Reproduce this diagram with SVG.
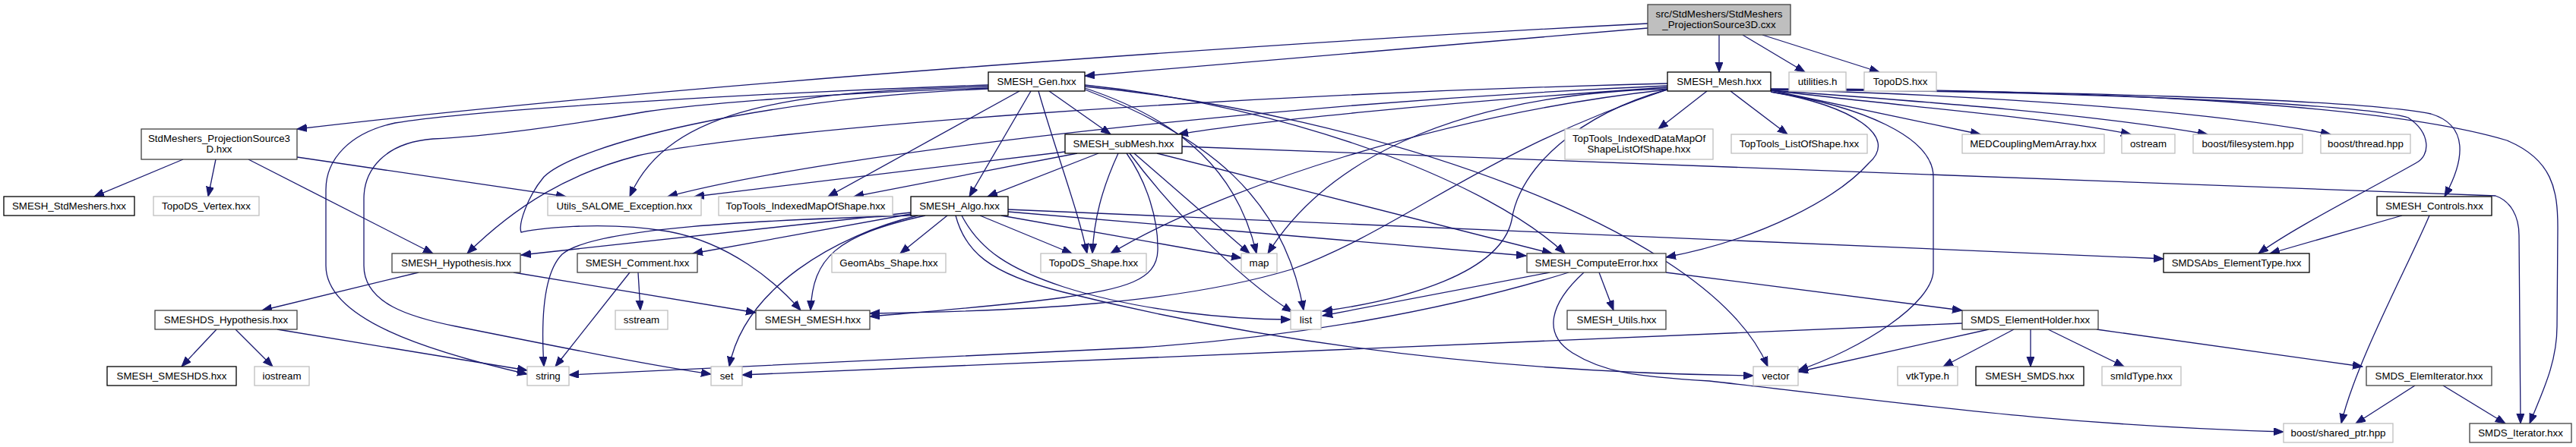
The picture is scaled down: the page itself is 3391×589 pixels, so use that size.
<svg xmlns="http://www.w3.org/2000/svg" width="3391" height="589" viewBox="0 0 3391 589">
<style>
.n rect{fill:#fff;stroke:#404040;stroke-width:1.3}
.k rect{stroke:#000}
.g rect{stroke:#bfbfbf}
.r rect{fill:#bfbfbf;stroke:#404040}
text{font-family:"Liberation Sans",Arial,sans-serif;font-size:13.3px;text-anchor:middle;fill:#000}
#edges path{fill:none;stroke:#191970;stroke-width:1.3;marker-end:url(#a)}
</style>
<defs>
<marker id="a" markerWidth="14" markerHeight="11" refX="13" refY="5" orient="auto" markerUnits="userSpaceOnUse"><path d="M0,0 L13,5 L0,10 z" fill="#191970" stroke="#191970" stroke-width="1"/></marker>
</defs>
<rect width="3391" height="589" fill="#fff"/>
<g id="edges">
<path d="M2169,31 C1700,55 900,110 391,170"/>
<path d="M2169,37 L1428,100"/>
<path d="M2263,46 L2263,95"/>
<path d="M2294,46 L2376,95"/>
<path d="M2320,46 L2474,95"/>
<path d="M241,210 L124,259"/>
<path d="M284,210 L274,259"/>
<path d="M327,210 L570,334"/>
<path d="M391,207 L745,259"/>
<path d="M1357,120 L1276,259"/>
<path d="M1381,120 L1462,177"/>
<path d="M1342,120 L1090,259"/>
<path d="M1367,120 C1390,200 1420,280 1431,334"/>
<path d="M1428,116 C1560,160 1630,230 1654,334"/>
<path d="M1428,118 C1590,180 1690,260 1716,409"/>
<path d="M1428,112 C1700,140 1960,240 2060,334"/>
<path d="M1428,114 C1800,150 2250,300 2327,483"/>
<path d="M1301,112 C1000,122 620,145 520,162 C460,175 429,210 429,250 L429,350 C429,420 560,462 694,493"/>
<path d="M1301,116 C1050,124 900,140 851,147 C750,165 640,180 570,183 C505,188 479,225 479,262 L479,350 C479,400 540,418 600,430 C760,462 860,482 936,493"/>
<path d="M1301,114 C1050,120 880,140 829,259"/>
<path d="M1301,117 C1000,130 760,190 716,233 C695,258 682,295 686,306 C700,302 790,290 880,305 C960,320 1020,370 1054,409"/>
<path d="M2195,110 C1600,125 1000,170 840,205 C750,228 680,270 615,334"/>
<path d="M2195,113 C1700,135 1100,200 879,259"/>
<path d="M2195,115 C1900,135 1650,160 1551,177"/>
<path d="M2195,118 C1900,150 1600,250 1462,334"/>
<path d="M2195,118 C1950,200 1850,300 1700,355 C1550,400 1350,410 1145,413"/>
<path d="M2195,117 C1900,125 1740,220 1669,334"/>
<path d="M2195,118 C2080,150 2000,220 1990,290 C1975,360 1850,395 1741,410"/>
<path d="M2247,120 L2183,170"/>
<path d="M2278,120 L2353,177"/>
<path d="M2331,119 L2607,177"/>
<path d="M2331,119 C2500,140 2700,155 2805,177"/>
<path d="M2331,119 C2550,135 2750,150 2906,177"/>
<path d="M2331,118 C2600,125 2900,145 3068,177"/>
<path d="M2331,118 C2700,120 3100,130 3200,150 C3250,165 3245,210 3218,259"/>
<path d="M2331,118 C2700,120 3100,135 3170,155 C3200,175 3200,205 3180,215 C3100,260 3020,300 2973,334"/>
<path d="M2331,117 C2800,118 3150,140 3300,185 C3360,210 3367,250 3367,300 L3366,430 C3366,480 3345,520 3330,558"/>
<path d="M2331,121 C2440,140 2500,180 2460,215 C2420,260 2320,315 2193,339"/>
<path d="M2331,121 C2450,140 2545,180 2545,233 L2545,356 C2545,400 2450,460 2367,488"/>
<path d="M1446,202 L1300,259"/>
<path d="M1418,202 L1124,259"/>
<path d="M1402,200 L914,259"/>
<path d="M1472,202 C1450,250 1440,290 1438,334"/>
<path d="M1483,202 C1510,240 1525,290 1524,330 C1523,370 1480,380 1400,392 C1300,405 1200,412 1145,417"/>
<path d="M1487,202 C1530,260 1620,360 1701,411"/>
<path d="M1493,202 L1645,334"/>
<path d="M1523,202 L2043,334"/>
<path d="M1556,193 L3285,258 C3305,265 3316,285 3316,310 L3318,558"/>
<path d="M1199,280 L686,336"/>
<path d="M1199,282 L912,334"/>
<path d="M1201,284 C1000,290 780,300 740,335 C715,360 712,420 716,483"/>
<path d="M1208,284 C1100,310 980,380 960,483"/>
<path d="M1218,284 C1100,310 1070,340 1067,409"/>
<path d="M1247,284 L1185,334"/>
<path d="M1290,284 L1411,334"/>
<path d="M1318,284 L1634,340"/>
<path d="M1266,284 C1290,330 1330,355 1400,378 C1500,410 1620,421 1699,421"/>
<path d="M1258,284 C1270,330 1300,360 1400,385 C1600,435 1900,490 2308,495"/>
<path d="M1327,279 L2009,337"/>
<path d="M1327,276 L2848,341"/>
<path d="M551,359 L345,409"/>
<path d="M676,359 L995,412"/>
<path d="M840,359 L843,409"/>
<path d="M829,359 L731,483"/>
<path d="M285,434 L239,483"/>
<path d="M310,434 L359,483"/>
<path d="M365,434 L694,488"/>
<path d="M2040,359 L1741,416"/>
<path d="M2065,359 C1900,410 1700,445 1500,458 C1200,474 900,485 749,494"/>
<path d="M2105,359 L2124,409"/>
<path d="M2193,359 L2583,409"/>
<path d="M2085,359 C2040,400 2030,440 2070,465 C2110,490 2150,496 2250,502 C2500,530 2700,560 3006,569"/>
<path d="M2583,426 L977,494"/>
<path d="M2618,434 L2367,490"/>
<path d="M2651,434 L2558,483"/>
<path d="M2673,434 L2673,483"/>
<path d="M2696,434 L2796,483"/>
<path d="M2760,434 L3110,483"/>
<path d="M3179,508 L3101,558"/>
<path d="M3216,508 L3298,558"/>
<path d="M3162,284 L2988,334"/>
<path d="M3198,284 C3170,350 3100,480 3082,558"/>
</g>
<g id="root" class="n r"><rect x="2169" y="6" width="188" height="40"/><text x="2263" y="23">src/StdMeshers/StdMeshers</text><text x="2263" y="37">_ProjectionSource3D.cxx</text></g>
<g id="gen" class="n k"><rect x="1301" y="95" width="127" height="25"/><text x="1364.5" y="112">SMESH_Gen.hxx</text></g>
<g id="mesh" class="n k"><rect x="2195" y="95" width="136" height="25"/><text x="2263" y="112">SMESH_Mesh.hxx</text></g>
<g id="utilities_h" class="n g"><rect x="2355" y="95" width="75" height="25"/><text x="2392.5" y="112">utilities.h</text></g>
<g id="topods" class="n g"><rect x="2454" y="95" width="95" height="25"/><text x="2501.5" y="112">TopoDS.hxx</text></g>
<g id="proj" class="n"><rect x="186" y="170" width="205" height="40"/><text x="288.5" y="187">StdMeshers_ProjectionSource3</text><text x="288.5" y="201">D.hxx</text></g>
<g id="submesh" class="n k"><rect x="1402" y="177" width="154" height="25"/><text x="1479" y="194">SMESH_subMesh.hxx</text></g>
<g id="idmap" class="n g"><rect x="2060" y="170" width="195" height="40"/><text x="2157.5" y="187">TopTools_IndexedDataMapOf</text><text x="2157.5" y="201">ShapeListOfShape.hxx</text></g>
<g id="listofshape" class="n g"><rect x="2279" y="177" width="179" height="25"/><text x="2368.5" y="194">TopTools_ListOfShape.hxx</text></g>
<g id="medc" class="n g"><rect x="2583" y="177" width="187" height="25"/><text x="2676.5" y="194">MEDCouplingMemArray.hxx</text></g>
<g id="ostream" class="n g"><rect x="2793" y="177" width="70" height="25"/><text x="2828" y="194">ostream</text></g>
<g id="bfs" class="n g"><rect x="2887" y="177" width="144" height="25"/><text x="2959" y="194">boost/filesystem.hpp</text></g>
<g id="bthread" class="n g"><rect x="3055" y="177" width="118" height="25"/><text x="3114" y="194">boost/thread.hpp</text></g>
<g id="stdm" class="n k"><rect x="5" y="259" width="172" height="25"/><text x="91" y="276">SMESH_StdMeshers.hxx</text></g>
<g id="vertex" class="n g"><rect x="202" y="259" width="139" height="25"/><text x="271.5" y="276">TopoDS_Vertex.hxx</text></g>
<g id="utils" class="n g"><rect x="721" y="259" width="202" height="25"/><text x="822" y="276">Utils_SALOME_Exception.hxx</text></g>
<g id="imap" class="n g"><rect x="946" y="259" width="229" height="25"/><text x="1060.5" y="276">TopTools_IndexedMapOfShape.hxx</text></g>
<g id="algo" class="n k"><rect x="1199" y="259" width="128" height="25"/><text x="1263" y="276">SMESH_Algo.hxx</text></g>
<g id="controls" class="n k"><rect x="3129" y="259" width="151" height="25"/><text x="3204.5" y="276">SMESH_Controls.hxx</text></g>
<g id="hyp" class="n"><rect x="516" y="334" width="169" height="25"/><text x="600.5" y="351">SMESH_Hypothesis.hxx</text></g>
<g id="comment" class="n"><rect x="760" y="334" width="158" height="25"/><text x="839" y="351">SMESH_Comment.hxx</text></g>
<g id="geomabs" class="n g"><rect x="1095" y="334" width="150" height="25"/><text x="1170" y="351">GeomAbs_Shape.hxx</text></g>
<g id="tshape" class="n g"><rect x="1370" y="334" width="139" height="25"/><text x="1439.5" y="351">TopoDS_Shape.hxx</text></g>
<g id="map" class="n g"><rect x="1634" y="334" width="47" height="25"/><text x="1657.5" y="351">map</text></g>
<g id="cerr" class="n"><rect x="2010" y="334" width="183" height="25"/><text x="2101.5" y="351">SMESH_ComputeError.hxx</text></g>
<g id="sabs" class="n k"><rect x="2848" y="334" width="192" height="25"/><text x="2944" y="351">SMDSAbs_ElementType.hxx</text></g>
<g id="dshyp" class="n"><rect x="204" y="409" width="187" height="25"/><text x="297.5" y="426">SMESHDS_Hypothesis.hxx</text></g>
<g id="sstream" class="n g"><rect x="810" y="409" width="69" height="25"/><text x="844.5" y="426">sstream</text></g>
<g id="ssmesh" class="n"><rect x="995" y="409" width="150" height="25"/><text x="1070" y="426">SMESH_SMESH.hxx</text></g>
<g id="list" class="n g"><rect x="1699" y="409" width="40" height="25"/><text x="1719" y="426">list</text></g>
<g id="utilsh" class="n"><rect x="2063" y="409" width="130" height="25"/><text x="2128" y="426">SMESH_Utils.hxx</text></g>
<g id="eholder" class="n"><rect x="2583" y="409" width="179" height="25"/><text x="2672.5" y="426">SMDS_ElementHolder.hxx</text></g>
<g id="smeshds" class="n k"><rect x="141" y="483" width="170" height="25"/><text x="226" y="500">SMESH_SMESHDS.hxx</text></g>
<g id="iostream" class="n g"><rect x="335" y="483" width="72" height="25"/><text x="371" y="500">iostream</text></g>
<g id="string" class="n g"><rect x="694" y="483" width="55" height="25"/><text x="721.5" y="500">string</text></g>
<g id="set" class="n g"><rect x="936" y="483" width="41" height="25"/><text x="956.5" y="500">set</text></g>
<g id="vector" class="n g"><rect x="2308" y="483" width="59" height="25"/><text x="2337.5" y="500">vector</text></g>
<g id="vtk" class="n g"><rect x="2498" y="483" width="79" height="25"/><text x="2537.5" y="500">vtkType.h</text></g>
<g id="smds" class="n k"><rect x="2601" y="483" width="142" height="25"/><text x="2672" y="500">SMESH_SMDS.hxx</text></g>
<g id="smid" class="n g"><rect x="2767" y="483" width="104" height="25"/><text x="2819" y="500">smIdType.hxx</text></g>
<g id="elemit" class="n"><rect x="3115" y="483" width="165" height="25"/><text x="3197.5" y="500">SMDS_ElemIterator.hxx</text></g>
<g id="bsp" class="n g"><rect x="3006" y="558" width="144" height="25"/><text x="3078" y="575">boost/shared_ptr.hpp</text></g>
<g id="iter" class="n"><rect x="3251" y="558" width="134" height="25"/><text x="3318" y="575">SMDS_Iterator.hxx</text></g>
</svg>
